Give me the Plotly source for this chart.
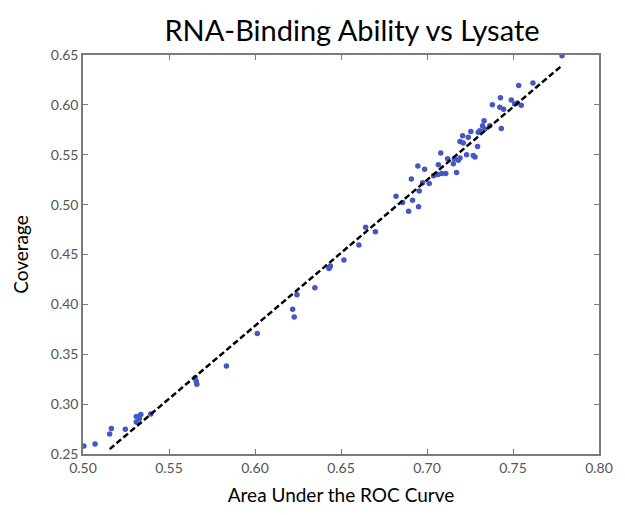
import plotly.graph_objects as go

# Scatter points: area under ROC curve (x) vs coverage (y)
auc = [0.5005, 0.507, 0.5155, 0.5165, 0.5246, 0.531, 0.531, 0.5336, 0.5328, 0.5394,
       0.5652, 0.5658, 0.5662, 0.5834, 0.6013, 0.6219, 0.6228, 0.6244, 0.6348, 0.6433,
       0.6438, 0.6430, 0.6517, 0.6604, 0.6643, 0.6700, 0.682, 0.6858, 0.6893, 0.6909,
       0.6916, 0.6951, 0.6955, 0.6947, 0.6986, 0.6974, 0.7013, 0.7038, 0.7063, 0.7066,
       0.708, 0.7109, 0.712, 0.7153, 0.7159, 0.7172, 0.7182, 0.7192, 0.723, 0.7269,
       0.7279, 0.7192, 0.7207, 0.724, 0.7255, 0.7294, 0.7298, 0.7307, 0.7323, 0.7332,
       0.7336, 0.7365, 0.738, 0.7427, 0.7423, 0.7445, 0.7432, 0.749, 0.751, 0.7525,
       0.7548, 0.7533, 0.7616, 0.7785, 0.7211, 0.7086]
coverage = [0.258, 0.260, 0.270, 0.2755, 0.2748, 0.282, 0.2876, 0.2896, 0.2853, 0.290,
            0.3265, 0.323, 0.320, 0.3381, 0.3708, 0.3952, 0.3873, 0.4097, 0.4167, 0.4370,
            0.4385, 0.4360, 0.4444, 0.4596, 0.4774, 0.4728, 0.5085, 0.5022, 0.4933, 0.5258,
            0.5044, 0.4978, 0.5137, 0.5388, 0.5355, 0.522, 0.5213, 0.5289, 0.5302, 0.5401,
            0.5517, 0.5312, 0.546, 0.5411, 0.546, 0.5322, 0.5444, 0.5467, 0.5500, 0.5493,
            0.5477, 0.5632, 0.5691, 0.5675, 0.5734, 0.5582, 0.5725, 0.5741, 0.579, 0.584,
            0.5757, 0.579, 0.6002, 0.6071, 0.5975, 0.5955, 0.5764, 0.6048, 0.6010, 0.6020,
            0.5995, 0.6193, 0.622, 0.6493, 0.5619, 0.5312]

# Fitted line endpoints
fit_x = [0.5155, 0.7789]
fit_y = [0.2549, 0.6401]

x_ticks = [0.50, 0.55, 0.60, 0.65, 0.70, 0.75, 0.80]
y_ticks = [0.25, 0.30, 0.35, 0.40, 0.45, 0.50, 0.55, 0.60, 0.65]

fig = go.Figure()
fig.add_trace(go.Scatter(x=auc, y=coverage, mode="markers",
                         marker=dict(color="#4457c2", size=5.5, line=dict(width=0)),
                         showlegend=False, cliponaxis=False))
fig.add_trace(go.Scatter(x=fit_x, y=fit_y, mode="lines",
                         line=dict(color="black", width=2.5, dash="6px,3px"),
                         showlegend=False))

axis_common = dict(showgrid=False, zeroline=False, showline=True, linecolor="#7a7a7a",
                   linewidth=1.5, mirror="ticks", ticks="inside", ticklen=5,
                   tickcolor="#7a7a7a", tickwidth=1,
                   tickfont=dict(family="Lato", size=14, color="#555555"))

fig.update_xaxes(range=[0.50, 0.80], tickvals=x_ticks,
                 ticktext=[f"{v:.2f}" for v in x_ticks],
                 title=dict(text="Area Under the ROC Curve",
                            font=dict(family="Lato", size=19, color="black"), standoff=14),
                 **axis_common)
fig.update_yaxes(range=[0.25, 0.65], tickvals=y_ticks,
                 ticktext=[f"{v:.2f}" for v in y_ticks],
                 title=dict(text="Coverage",
                            font=dict(family="Lato", size=19, color="black"), standoff=17),
                 **axis_common)

fig.update_layout(
    width=617, height=507,
    margin=dict(l=74, r=24, t=47, b=56),
    paper_bgcolor="white", plot_bgcolor="white",
    title=dict(text="RNA-Binding Ability vs Lysate", x=0.5575, xref="container",
               xanchor="center", y=0.9546, yref="container", yanchor="middle",
               font=dict(family="Lato", size=29, color="black")),
)

fig.write_html("out.html")
